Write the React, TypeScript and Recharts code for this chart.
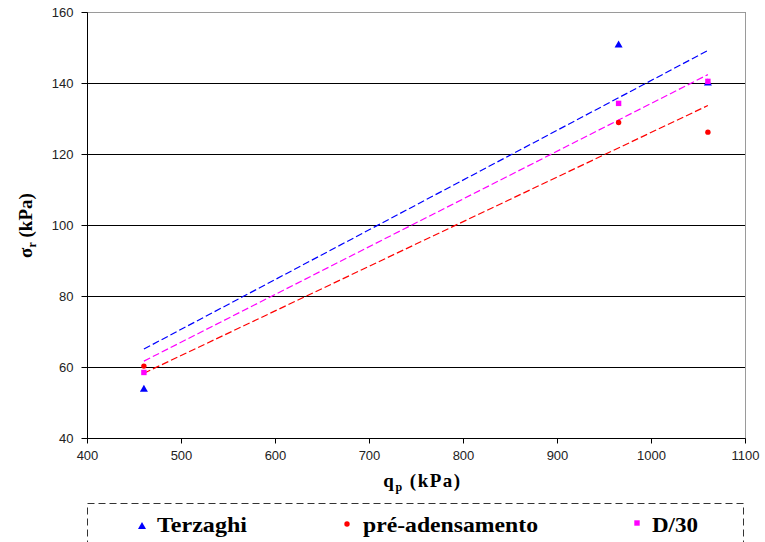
import React from 'react';
import { ComposedChart, Scatter, Line, XAxis, YAxis, CartesianGrid, ReferenceLine, Label } from 'recharts';

// Data
const qp = [460, 965, 1060];
const terzaghi = [54, 151, 140.3];
const preAdensamento = [60.4, 129, 126.3];
const d30 = [58.6, 134.4, 140.6];

const trendX = [460, 1060];
const terzaghiTrend = [65.2, 149.3];
const preTrend = [58.4, 133.8];
const d30Trend = [61.8, 142.5];

const xTicks = [400, 500, 600, 700, 800, 900, 1000, 1100];
const yTicks = [40, 60, 80, 100, 120, 140, 160];
const seriesNames = ['Terzaghi', 'pré-adensamento', 'D/30'];

const BLUE = '#0000ff';
const RED = '#ff0000';
const MAGENTA = '#ff00ff';

const toPts = (xs: number[], ys: number[]) => xs.map((x, i) => ({ x, y: ys[i] }));

const Triangle = (p: any) => {
  const { cx, cy } = p;
  return <polygon points={`${cx},${cy - 4} ${cx + 4},${cy + 3} ${cx - 4},${cy + 3}`} fill={BLUE} />;
};
const Dot = (p: any) => <circle cx={p.cx} cy={p.cy} r={2.7} fill={RED} />;
const Square = (p: any) => <rect x={p.cx - 2.7} y={p.cy - 2.7} width={5.4} height={5.4} fill={MAGENTA} />;

const serif = 'Liberation Serif, DejaVu Serif, serif';
const sans = 'Liberation Sans, Arial, sans-serif';

const XTitle = (props: any) => {
  const vb = props.viewBox || { x: 87, y: 439, width: 658 };
  const cx = vb.x + vb.width / 2 + 6;
  return (
    <text x={cx} y={vb.y + 48} textAnchor="middle" style={{ fontFamily: serif }} fontWeight="bold" fontSize={19} letterSpacing={1.5} fill="#000">
      q<tspan fontSize={12} dy={4}>p</tspan>
      <tspan dy={-4}> (kPa)</tspan>
    </text>
  );
};

const YTitle = (props: any) => {
  const vb = props.viewBox || { x: 0, y: 13, height: 426 };
  const cx = vb.x + 31;
  const cy = vb.y + vb.height / 2;
  return (
    <text x={cx} y={cy} transform={`rotate(-90 ${cx} ${cy})`} textAnchor="middle" style={{ fontFamily: serif }} fontWeight="bold" fontSize={19} fill="#000">
      σ<tspan fontSize={12} dy={4}>r</tspan>
      <tspan dy={-4}> (kPa)</tspan>
    </text>
  );
};

export default function App() {
  return (
    <div style={{ position: 'absolute', left: 0, top: 0, width: 765, height: 542, overflow: 'hidden', background: '#fff' }}>
      <ComposedChart width={765} height={542} margin={{ top: 12.5, right: 19.5, bottom: 73.5, left: 0.5 }}>
        <CartesianGrid horizontal vertical={false} stroke="#000" strokeWidth={1} />
        <XAxis
          type="number"
          dataKey="x"
          domain={[400, 1100]}
          ticks={xTicks}
          interval={0}
          height={30}
          tickSize={5}
          tickMargin={7}
          axisLine={{ stroke: '#000' }}
          tickLine={{ stroke: '#000' }}
          tick={{ fill: '#222', fontSize: 13, fontFamily: sans }}
          allowDataOverflow
        >
          <Label content={XTitle} />
        </XAxis>
        <YAxis
          type="number"
          dataKey="y"
          domain={[40, 160]}
          ticks={yTicks}
          interval={0}
          width={87}
          tickSize={6}
          tickMargin={8}
          axisLine={{ stroke: '#000' }}
          tickLine={{ stroke: '#000' }}
          tick={{ fill: '#222', fontSize: 13, fontFamily: sans }}
          allowDataOverflow
        >
          <Label content={YTitle} />
        </YAxis>
        <ReferenceLine y={160} stroke="#9a9a9a" strokeWidth={1} />
        <ReferenceLine x={1100} stroke="#9a9a9a" strokeWidth={1} />
        <Line data={toPts(trendX, terzaghiTrend)} dataKey="y" stroke={BLUE} strokeWidth={1.2} strokeDasharray="7 3" dot={false} activeDot={false} isAnimationActive={false} legendType="none" />
        <Line data={toPts(trendX, d30Trend)} dataKey="y" stroke={MAGENTA} strokeWidth={1.2} strokeDasharray="7 3" dot={false} activeDot={false} isAnimationActive={false} legendType="none" />
        <Line data={toPts(trendX, preTrend)} dataKey="y" stroke={RED} strokeWidth={1.2} strokeDasharray="7 3" dot={false} activeDot={false} isAnimationActive={false} legendType="none" />
        <Scatter name={seriesNames[0]} data={toPts(qp, terzaghi)} dataKey="y" shape={Triangle} isAnimationActive={false} />
        <Scatter name={seriesNames[1]} data={toPts(qp, preAdensamento)} dataKey="y" shape={Dot} isAnimationActive={false} />
        <Scatter name={seriesNames[2]} data={toPts(qp, d30)} dataKey="y" shape={Square} isAnimationActive={false} />
      </ComposedChart>
      <svg width={765} height={542} style={{ position: 'absolute', left: 0, top: 0, pointerEvents: 'none', fontFamily: serif }}>
        <rect x={87.5} y={503.5} width={656} height={70} fill="none" stroke="#333" strokeWidth={1} strokeDasharray="7 4" />
        <polygon points="142,522 146,529 138,529" fill={BLUE} />
        <text x={157} y={532} fontWeight="bold" fontSize={21} textLength={90} lengthAdjust="spacingAndGlyphs" fill="#000">{seriesNames[0]}</text>
        <circle cx={347} cy={524} r={2.7} fill={RED} />
        <text x={363} y={532} fontWeight="bold" fontSize={21} textLength={175} lengthAdjust="spacingAndGlyphs" fill="#000">{seriesNames[1]}</text>
        <rect x={634.3} y={520.3} width={5.4} height={5.4} fill={MAGENTA} />
        <text x={652} y={532} fontWeight="bold" fontSize={21} textLength={46} lengthAdjust="spacingAndGlyphs" fill="#000">{seriesNames[2]}</text>
      </svg>
    </div>
  );
}
